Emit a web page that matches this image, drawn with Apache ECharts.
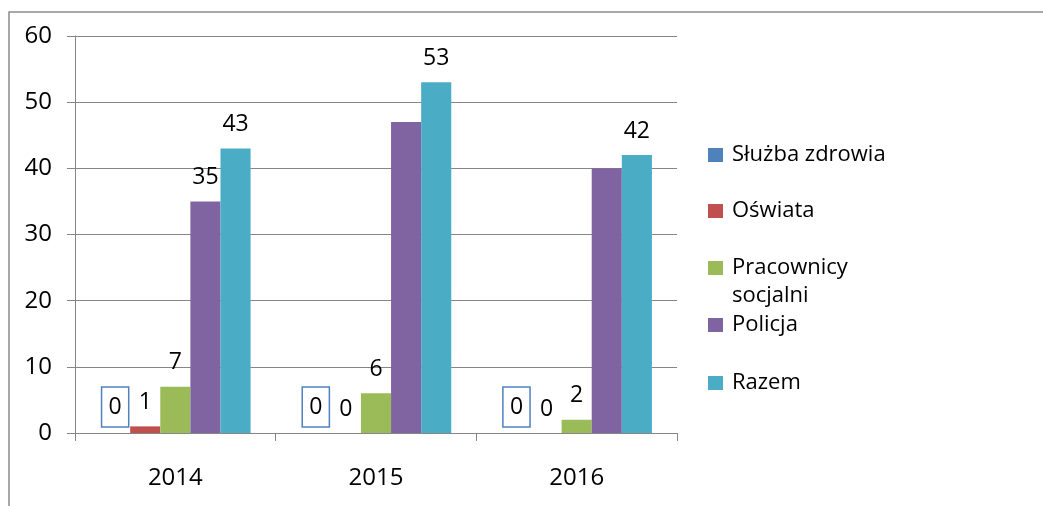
<!DOCTYPE html>
<html>
<head>
<meta charset="utf-8">
<script src="https://cdn.jsdelivr.net/npm/echarts@6/dist/echarts.min.js"></script>
<style>
  html, body { margin: 0; padding: 0; background: #fff; }
  #chart { width: 1043px; height: 506px; }
</style>
</head>
<body>
<div id="chart"></div>
<script>
let years = ['2014', '2015', '2016']
let seriesNames = ['Służba zdrowia', 'Oświata', 'Pracownicy socjalni', 'Policja', 'Razem']
let sluzbaZdrowia = [0, 0, 0]
let oswiata = [1, 0, 0]
let pracownicy = [7, 6, 2]
let policja = [35, 47, 40]
let razem = [43, 53, 42]
// which Policja values carry a label in the original
let policjaLabelShown = [true, false, false]
let colors = ['#4f81bd', '#c0504d', '#9bbb59', '#8064a2', '#4bacc6']
let yTicks = { min: 0, max: 60, interval: 10 }

let font = "'Open Sans', 'Noto Sans', sans-serif"
let axisGray = '#868686'

let labelStyle = {
  show: true,
  position: 'top',
  distance: 12,
  color: '#000',
  fontFamily: font,
  fontSize: 23,
  lineHeight: 24
}

function barSeries (i, data) {
  return {
    name: seriesNames[i],
    type: 'bar',
    barGap: 0,
    barCategoryGap: '25%',
    itemStyle: { color: colors[i] },
    label: Object.assign({}, labelStyle),
    data: data
  }
}

let series = [
  barSeries(0, sluzbaZdrowia),
  barSeries(1, oswiata),
  barSeries(2, pracownicy),
  barSeries(3, policja.map((v, i) => ({ value: v, label: { show: policjaLabelShown[i] } }))),
  barSeries(4, razem)
]
// boxed zero labels for the first series
series[0].label = Object.assign({}, labelStyle, {
  distance: 6,
  borderColor: '#4f81bd',
  borderWidth: 1.5,
  padding: [8, 7, 8, 7]
})

// one legend per item so the wrapped name keeps the original spacing
// (the wrapped one gets an empty first line so "Pracownicy" sits beside its icon)
let legendTops = [141, 197, 226, 311, 369]
let legends = seriesNames.map((name, i) => ({
  data: [name],
  left: 708,
  top: legendTops[i],
  padding: 0,
  orient: 'vertical',
  selectedMode: false,
  icon: 'rect',
  itemWidth: 15,
  itemHeight: 14,
  itemGap: 0,
  formatter: (n) => n === 'Pracownicy socjalni' ? '{t|}\n{t|Pracownicy}\n{t|socjalni}' : '{t|' + n + '}',
  textStyle: {
    color: '#000',
    fontFamily: font,
    fontSize: 22,
    lineHeight: 28,
    rich: {
      t: { fontFamily: font, fontSize: 22, lineHeight: 28, color: '#000', padding: [0, 0, 0, 4] }
    }
  }
}))

let myChart = echarts.init(document.getElementById('chart'))
myChart.setOption({
  animation: false,
  backgroundColor: '#fff',
  graphic: [{
    type: 'polyline',
    shape: { points: [[9, 506], [9, 12], [1043, 12]] },
    style: { stroke: '#8c8c8c', lineWidth: 1.5, fill: null },
    silent: true
  }],
  grid: {
    left: 75,
    right: 366,
    top: 36,
    bottom: 73,
    containLabel: false
  },
  legend: legends,
  xAxis: {
    type: 'category',
    data: years,
    axisLine: { show: true, lineStyle: { color: axisGray, width: 1 } },
    axisTick: { show: true, alignWithLabel: false, length: 8, lineStyle: { color: axisGray } },
    axisLabel: { color: '#000', fontFamily: font, fontSize: 24, margin: 33 },
    splitLine: { show: false }
  },
  yAxis: {
    type: 'value',
    min: yTicks.min,
    max: yTicks.max,
    interval: yTicks.interval,
    axisLine: { show: true, lineStyle: { color: axisGray, width: 1 } },
    axisTick: { show: true, length: 8, lineStyle: { color: axisGray } },
    axisLabel: { color: '#000', fontFamily: font, fontSize: 24, margin: 23 },
    splitLine: { show: true, lineStyle: { color: axisGray, width: 1 } }
  },
  series: series
})
</script>
</body>
</html>
